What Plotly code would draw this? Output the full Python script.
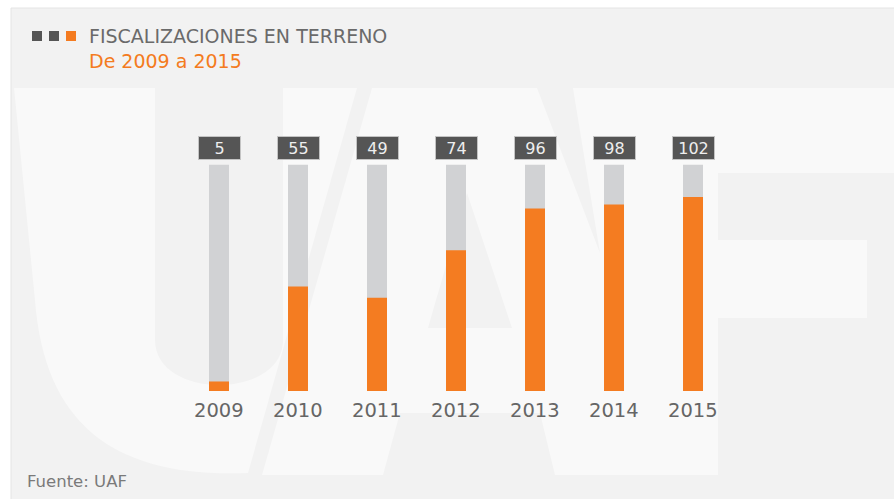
import plotly.graph_objects as go

# ---- data ----
years = ["2009", "2010", "2011", "2012", "2013", "2014", "2015"]
values = [5, 55, 49, 74, 96, 98, 102]
scale_max = 119
title_text = "FISCALIZACIONES EN TERRENO"
subtitle_text = "De 2009 a 2015"
source_text = "Fuente: UAF"

W, H = 894, 499
ORANGE = "#f47b20"
DARK = "#555555"
FONT = "DejaVu Sans"


def px(x):
    return x / W


def py(y):
    return 1 - y / H


def path(cmds):
    out = []
    for cmd, pts in cmds:
        if cmd == "Z":
            out.append("Z")
        elif cmd == "C":
            out.append("C" + " ".join(f"{px(a):.4f},{py(b):.4f}" for a, b in pts))
        else:
            for a, b in pts:
                out.append(f"{cmd}{px(a):.4f},{py(b):.4f}")
    return "".join(out)


fig = go.Figure()
fig.add_bar(x=years, y=[scale_max] * len(years), marker_color="#d1d2d4",
            marker_line_width=0, width=0.253, hoverinfo="skip")
fig.add_bar(x=years, y=values, marker_color="#f47c21",
            marker_line_width=0, width=0.253)

shapes = []
# card background
shapes.append(dict(type="rect", xref="paper", yref="paper", x0=px(11), x1=1.01,
                   y0=-0.01, y1=py(8), fillcolor="#f2f2f2",
                   line=dict(color="#e4e4e4", width=1), layer="below"))
wm = dict(type="path", xref="paper", yref="paper", fillcolor="#f9f9f9",
          line=dict(width=0), layer="below")
# watermark U
shapes.append(dict(wm, path=path([
    ("M", [(14, 88)]), ("L", [(155, 88), (155, 340)]),
    ("C", [(155, 400), (283, 400), (283, 340)]),
    ("L", [(283, 88), (357, 88), (248, 473)]),
    ("C", [(120, 478), (45, 430), (35, 300)]), ("Z", [])])))
# watermark A
shapes.append(dict(wm, path=path([
    ("M", [(372, 88)]), ("L", [(537, 88), (600, 253), (600, 475), (555, 475),
                               (540, 413), (400, 413), (383, 475), (262, 475)]), ("Z", []),
    ("M", [(467, 193)]), ("L", [(428, 328), (512, 328)]), ("Z", [])])))
# watermark F
shapes.append(dict(wm, path=path([
    ("M", [(573, 88)]), ("L", [(894, 88), (894, 173), (718, 173), (718, 240),
                               (867, 240), (867, 318), (718, 318), (718, 475),
                               (600, 475), (600, 253)]), ("Z", [])])))
# title squares
for i, c in enumerate([DARK, DARK, ORANGE]):
    x0 = 32 + 17 * i
    shapes.append(dict(type="rect", xref="paper", yref="paper",
                       x0=px(x0), x1=px(x0 + 10), y0=py(41), y1=py(31),
                       fillcolor=c, line=dict(width=0)))

annotations = []
annotations.append(dict(xref="paper", yref="paper", x=px(87), y=py(36),
                        xanchor="left", yanchor="middle", showarrow=False,
                        text=title_text, font=dict(family=FONT, size=19, color="#6a6a6a")))
annotations.append(dict(xref="paper", yref="paper", x=px(87), y=py(61),
                        xanchor="left", yanchor="middle", showarrow=False,
                        text=subtitle_text, font=dict(family=FONT, size=19, color=ORANGE)))
annotations.append(dict(xref="paper", yref="paper", x=px(25), y=py(481),
                        xanchor="left", yanchor="middle", showarrow=False,
                        text=source_text, font=dict(family=FONT, size=16.5, color="#7a7a7a")))
for i, (yr, v) in enumerate(zip(years, values)):
    annotations.append(dict(x=i, y=127.8, xref="x", yref="y", showarrow=False,
                            text=str(v), font=dict(family=FONT, size=16, color="#eeeeee"),
                            bgcolor=DARK, bordercolor="#c4c4c4", borderwidth=1,
                            borderpad=1, width=39, height=20,
                            yanchor="middle"))
    annotations.append(dict(x=i, y=-10.5, xref="x", yref="y", showarrow=False,
                            text=yr, font=dict(family=FONT, size=19.5, color="#666666"),
                            yanchor="middle"))

fig.update_layout(
    width=W, height=H,
    margin=dict(l=0, r=0, t=0, b=0),
    paper_bgcolor="white", plot_bgcolor="rgba(0,0,0,0)",
    barmode="overlay", showlegend=False,
    xaxis=dict(type="category", range=[-2.772, 8.544], visible=False, fixedrange=True),
    yaxis=dict(range=[-56.8, 205.6], visible=False, fixedrange=True),
    shapes=shapes, annotations=annotations,
)

fig.write_html("out.html", config={"displayModeBar": False},
               post_script="document.body.style.margin='0';document.body.style.overflow='hidden';")
